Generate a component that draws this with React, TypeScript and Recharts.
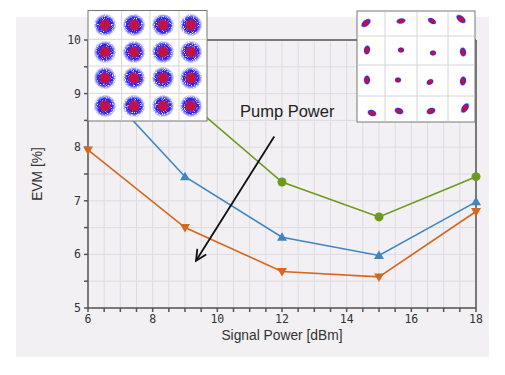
import React from 'react'
import { LineChart, Line, XAxis, YAxis, CartesianGrid, ReferenceLine } from 'recharts'

// signal power sweep [dBm] and EVM [%] for three pump powers
const signalPower = [6, 9, 12, 15, 18]
const evmPumpLow = [9.9, 8.9, 7.35, 6.7, 7.45]
const evmPumpMid = [9.4, 7.45, 6.32, 5.98, 6.98]
const evmPumpHigh = [7.95, 6.5, 5.68, 5.58, 6.8]

const xTicks = [6, 6.5, 7, 7.5, 8, 8.5, 9, 9.5, 10, 10.5, 11, 11.5, 12, 12.5, 13, 13.5, 14, 14.5, 15, 15.5, 16, 16.5, 17, 17.5, 18]
const yTicks = [5, 5.5, 6, 6.5, 7, 7.5, 8, 8.5, 9, 9.5, 10]
const xLabels = [6, 8, 10, 12, 14, 16, 18]
const yLabels = [5, 6, 7, 8, 9, 10]

// arrow annotation, in data units
const arrowStart = { x: 11.76, y: 8.2 }
const arrowEnd = { x: 9.34, y: 5.88 }

const data = signalPower.map((p, i) => ({
  power: p,
  low: evmPumpLow[i],
  mid: evmPumpMid[i],
  high: evmPumpHigh[i],
}))

const COLORS = {
  green: '#6b9a1c',
  blue: '#3f86c0',
  orange: '#d5671f',
  axis: '#555555',
  grid: '#dddbdf',
  panel: '#f2f0f3',
}

const tickStyle = { fill: '#333', fontSize: 11.5, fontFamily: '"DejaVu Sans Mono", monospace' }

// markers at x=6 sit under the constellation inset in the original, so they are not drawn
function Circle(props: any) {
  const { cx, cy, index } = props
  if (index === 0) return <g key={`c${index}`} />
  return <circle key={`c${index}`} cx={cx} cy={cy} r={4.5} fill={COLORS.green} />
}

function TriUp(props: any) {
  const { cx, cy, index } = props
  if (index === 0) return <g key={`u${index}`} />
  return <path key={`u${index}`} d={`M${cx},${cy - 5} L${cx + 5},${cy + 3.5} L${cx - 5},${cy + 3.5} Z`} fill={COLORS.blue} />
}

function TriDown(props: any) {
  const { cx, cy, index } = props
  return <path key={`d${index}`} d={`M${cx},${cy + 5} L${cx + 5},${cy - 3.5} L${cx - 5},${cy - 3.5} Z`} fill={COLORS.orange} />
}

function Arrow(props: any) {
  const { x1, y1, x2, y2 } = props
  const ang = Math.atan2(y2 - y1, x2 - x1)
  const len = 12
  const spread = 0.45
  const ax = x2 - len * Math.cos(ang - spread)
  const ay = y2 - len * Math.sin(ang - spread)
  const bx = x2 - len * Math.cos(ang + spread)
  const by = y2 - len * Math.sin(ang + spread)
  return (
    <g>
      <line x1={x1} y1={y1} x2={x2} y2={y2} stroke="#111" strokeWidth={1.8} />
      <polyline points={`${ax},${ay} ${x2},${y2} ${bx},${by}`} fill="none" stroke="#111" strokeWidth={1.8} />
    </g>
  )
}

// decorative constellation insets
const leftCols = [105, 134, 163, 191]
const leftRows = [25, 52, 78, 106]
const rightBlobs = [
  [366, 23, 6, 3.5, -40], [401, 21, 5, 3, -10], [432, 21, 5, 3, 30], [461, 19, 6, 3.5, 40],
  [367, 50, 3.5, 5, 10], [401, 50, 3.5, 3, 0], [433, 53, 3.5, 3, 0], [463, 52, 3.5, 5, -10],
  [367, 80, 3.5, 5, 0], [398, 80, 3.5, 3, 0], [430, 82, 4, 3, -30], [463, 81, 3.5, 5, 10],
  [372, 113, 5, 3.5, 20], [399, 111, 5, 3.5, 20], [431, 111, 5, 3.5, -20], [465, 108, 6, 3.5, -55],
]

function Insets() {
  return (
    <svg width={505} height={375} style={{ position: 'absolute', left: 0, top: 0, pointerEvents: 'none' }}>
      <defs>
        <radialGradient id="cloud">
          <stop offset="0%" stopColor="#1c1cf0" />
          <stop offset="65%" stopColor="#2424f0" />
          <stop offset="100%" stopColor="#3a3aff" stopOpacity={0} />
        </radialGradient>
        <radialGradient id="core">
          <stop offset="0%" stopColor="#c8103a" />
          <stop offset="60%" stopColor="#c01248" />
          <stop offset="100%" stopColor="#8a1a8a" stopOpacity={0} />
        </radialGradient>
        <radialGradient id="blobS">
          <stop offset="0%" stopColor="#c8103a" />
          <stop offset="55%" stopColor="#c01040" />
          <stop offset="72%" stopColor="#2a2ae6" />
          <stop offset="100%" stopColor="#4040ff" stopOpacity={0.2} />
        </radialGradient>
        <filter id="speckle" x="-30%" y="-30%" width="160%" height="160%">
          <feTurbulence type="fractalNoise" baseFrequency="0.9" numOctaves={1} seed={4} result="noise" />
          <feColorMatrix in="noise" type="matrix" values="0 0 0 0 0  0 0 0 0 0  0 0 0 0 0  5 0 0 0 -1.4" result="mask" />
          <feComposite in="SourceGraphic" in2="mask" operator="in" />
        </filter>
      </defs>
      <rect x={88} y={10.5} width={119} height={110.5} fill="#fff" stroke="#777" />
      {[121.7, 150, 179].map((x) => <line key={`lx${x}`} x1={x} y1={11} x2={x} y2={120.5} stroke="#d4d4d4" />)}
      {[39.3, 66, 93.3].map((y) => <line key={`ly${y}`} x1={88.5} y1={y} x2={206.5} y2={y} stroke="#d4d4d4" />)}
      <g filter="url(#speckle)">
        {leftRows.map((cy) => leftCols.map((cx) => <circle key={`b${cx}-${cy}`} cx={cx} cy={cy} r={11.5} fill="url(#cloud)" />))}
      </g>
      {leftRows.map((cy) => leftCols.map((cx) => <circle key={`k${cx}-${cy}`} cx={cx} cy={cy} r={7} fill="url(#core)" />))}
      <rect x={357} y={11} width={118} height={111} fill="#fff" stroke="#777" />
      {[385, 417, 448].map((x) => <line key={`rx${x}`} x1={x} y1={11.5} x2={x} y2={121.5} stroke="#d4d4d4" />)}
      {[36, 65, 96].map((y) => <line key={`ry${y}`} x1={357.5} y1={y} x2={474.5} y2={y} stroke="#d4d4d4" />)}
      {rightBlobs.map(([cx, cy, rx, ry, rot], i) => (
        <ellipse key={`r${i}`} cx={cx} cy={cy} rx={rx} ry={ry} transform={`rotate(${rot} ${cx} ${cy})`} fill="url(#blobS)" />
      ))}
      <text x={240} y={117} fontSize={16.5} fontFamily='"Liberation Sans", Arial, sans-serif' fill="#222">Pump Power</text>
      <text x={282} y={340} textAnchor="middle" fontSize={13.8} fontFamily='"Liberation Sans", Arial, sans-serif' fill="#333">Signal Power [dBm]</text>
      <text x={41.5} y={174} transform="rotate(-90 41.5 174)" textAnchor="middle" fontSize={13.8} fontFamily='"Liberation Sans", Arial, sans-serif' fill="#333">EVM [%]</text>
    </svg>
  )
}

export default function App() {
  return (
    <div style={{ position: 'absolute', left: 0, top: 0, width: 505, height: 375, background: '#fff' }}>
      <div style={{ position: 'absolute', left: 16, top: 17, width: 473, height: 340, background: COLORS.panel }} />
      <div style={{ position: 'absolute', left: 0, top: 0 }}>
        <LineChart width={505} height={375} data={data} margin={{ top: 40, right: 29, bottom: 33, left: 48 }}>
          <CartesianGrid stroke={COLORS.grid} strokeWidth={1} />
          <XAxis
            dataKey="power"
            type="number"
            domain={[6, 18]}
            ticks={xTicks}
            interval={0}
            height={34}
            tickSize={4}
            tickMargin={3}
            tickFormatter={(v: number) => (xLabels.includes(v) ? String(v) : '')}
            tick={tickStyle}
            stroke={COLORS.axis}
            strokeWidth={1.5}
          />
          <YAxis
            type="number"
            domain={[5, 10]}
            ticks={yTicks}
            interval={0}
            width={40}
            tickSize={4}
            tickMargin={3}
            tickFormatter={(v: number) => (yLabels.includes(v) ? String(v) : '')}
            tick={tickStyle}
            stroke={COLORS.axis}
            strokeWidth={1.5}
          />
          <ReferenceLine y={10} stroke={COLORS.axis} strokeWidth={1.5} />
          <ReferenceLine x={18} stroke={COLORS.axis} strokeWidth={1.5} />
          <Line dataKey="low" stroke={COLORS.green} strokeWidth={1.6} dot={Circle} isAnimationActive={false} />
          <Line dataKey="mid" stroke={COLORS.blue} strokeWidth={1.6} dot={TriUp} isAnimationActive={false} />
          <Line dataKey="high" stroke={COLORS.orange} strokeWidth={1.6} dot={TriDown} isAnimationActive={false} />
          <ReferenceLine segment={[arrowStart, arrowEnd]} shape={Arrow} />
        </LineChart>
      </div>
      <Insets />
    </div>
  )
}
